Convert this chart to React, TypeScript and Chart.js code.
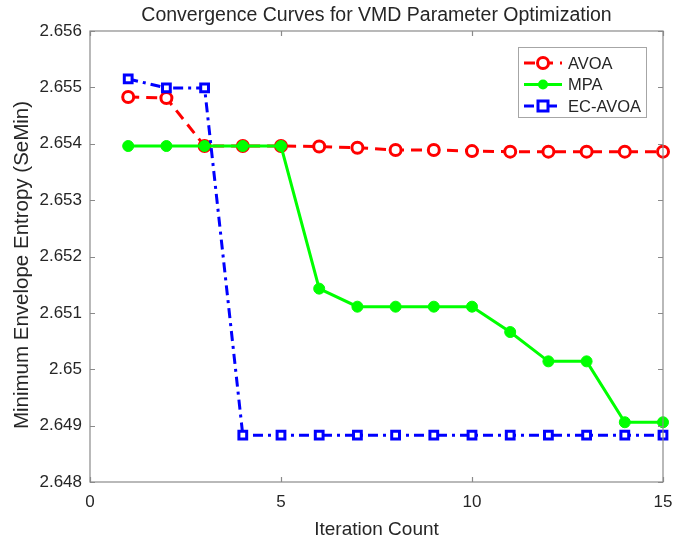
import { useEffect, useRef } from "react";
import { Chart, registerables } from "chart.js";

Chart.register(...registerables);

// Iteration index and best SeMin value found per iteration for each optimizer
const iterations = [1, 2, 3, 4, 5, 6, 7, 8, 9, 10, 11, 12, 13, 14, 15];
const avoaValues = [
  2.65483, 2.65481, 2.65396, 2.65396, 2.65396, 2.65395, 2.65393, 2.65389,
  2.65389, 2.65387, 2.65386, 2.65386, 2.65386, 2.65386, 2.65386,
];
const mpaValues = [
  2.65396, 2.65396, 2.65396, 2.65396, 2.65396, 2.65143, 2.65111, 2.65111,
  2.65111, 2.65111, 2.65066, 2.65014, 2.65014, 2.64906, 2.64906,
];
const ecAvoaValues = [
  2.65515, 2.65499, 2.65499, 2.64883, 2.64883, 2.64883, 2.64883, 2.64883,
  2.64883, 2.64883, 2.64883, 2.64883, 2.64883, 2.64883, 2.64883,
];
const seriesNames = ["AVOA", "MPA", "EC-AVOA"];
const xTicks = [0, 5, 10, 15];
const yTicks = [2.648, 2.649, 2.65, 2.651, 2.652, 2.653, 2.654, 2.655, 2.656];

const titleText = "Convergence Curves for VMD Parameter Optimization";
const xTitleText = "Iteration Count";
const yTitleText = "Minimum Envelope Entropy (SeMin)";

const FONT = "'Liberation Sans', Arial, sans-serif";
const TEXT_COLOR = "#262626";
const AXIS_COLOR = "#8a8a8a";

const RED = "#ff0000";
const GREEN = "#00ff00";
const BLUE = "#0000ff";
const RED_DASH = [11, 7];
const BLUE_DASH = [10, 5, 3, 5];

function drawMarker(
  ctx: CanvasRenderingContext2D,
  kind: string,
  x: number,
  y: number,
  color: string
) {
  ctx.save();
  ctx.setLineDash([]);
  ctx.lineWidth = 3;
  ctx.strokeStyle = color;
  if (kind === "circle") {
    ctx.fillStyle = "#ffffff";
    ctx.beginPath();
    ctx.arc(x, y, 5.5, 0, Math.PI * 2);
    ctx.fill();
    ctx.stroke();
  } else if (kind === "dot") {
    ctx.fillStyle = color;
    ctx.beginPath();
    ctx.arc(x, y, 5, 0, Math.PI * 2);
    ctx.fill();
  } else {
    ctx.fillStyle = "#ffffff";
    ctx.fillRect(x - 5, y - 5, 10, 10);
    ctx.strokeRect(x - 5, y - 5, 10, 10);
  }
  ctx.restore();
}

const framePlugin = {
  id: "frame",
  afterDraw(chart: any) {
    const ctx: CanvasRenderingContext2D = chart.ctx;
    const { left, right, top, bottom } = chart.chartArea;
    const xs = chart.scales.x;
    const ys = chart.scales.y;
    ctx.save();

    // axes box with inward ticks on all four sides
    ctx.strokeStyle = AXIS_COLOR;
    ctx.lineWidth = 1.2;
    ctx.setLineDash([]);
    ctx.strokeRect(left, top, right - left, bottom - top);
    const tl = 5;
    ctx.beginPath();
    for (const v of xTicks) {
      const px = Math.round(xs.getPixelForValue(v)) + 0.5;
      ctx.moveTo(px, bottom);
      ctx.lineTo(px, bottom - tl);
      ctx.moveTo(px, top);
      ctx.lineTo(px, top + tl);
    }
    for (const v of yTicks) {
      const py = Math.round(ys.getPixelForValue(v)) + 0.5;
      ctx.moveTo(left, py);
      ctx.lineTo(left + tl, py);
      ctx.moveTo(right, py);
      ctx.lineTo(right - tl, py);
    }
    ctx.stroke();

    // title and axis titles
    ctx.fillStyle = TEXT_COLOR;
    ctx.textAlign = "center";
    ctx.textBaseline = "alphabetic";
    ctx.font = `19.5px ${FONT}`;
    ctx.fillText(titleText, (left + right) / 2, 21);
    ctx.font = `19px ${FONT}`;
    ctx.fillText(xTitleText, (left + right) / 2, 535);
    ctx.save();
    ctx.translate(22, 265);
    ctx.rotate(-Math.PI / 2);
    ctx.textBaseline = "middle";
    ctx.font = `20.5px ${FONT}`;
    ctx.fillText(yTitleText, 0, 0);
    ctx.restore();

    // legend
    const bx = 518;
    const by = 47;
    const bw = 128;
    const bh = 70;
    ctx.fillStyle = "#ffffff";
    ctx.fillRect(bx, by, bw, bh);
    ctx.strokeStyle = "#a6a6a6";
    ctx.lineWidth = 1;
    ctx.strokeRect(bx + 0.5, by + 0.5, bw, bh);
    const rows = [
      { color: RED, dash: RED_DASH, marker: "circle", y: 63 },
      { color: GREEN, dash: [], marker: "dot", y: 84.5 },
      { color: BLUE, dash: BLUE_DASH, marker: "square", y: 106 },
    ];
    rows.forEach((r, i) => {
      ctx.save();
      ctx.strokeStyle = r.color;
      ctx.lineWidth = 3;
      ctx.setLineDash(r.dash);
      ctx.beginPath();
      ctx.moveTo(524, r.y);
      ctx.lineTo(562, r.y);
      ctx.stroke();
      ctx.restore();
      drawMarker(ctx, r.marker, 543, r.y, r.color);
      ctx.fillStyle = TEXT_COLOR;
      ctx.textAlign = "left";
      ctx.textBaseline = "middle";
      ctx.font = `16.5px ${FONT}`;
      ctx.fillText(seriesNames[i], 568, r.y + 1);
    });
    ctx.restore();
  },
};

function toPoints(values: number[]) {
  return iterations.map((it, i) => ({ x: it, y: values[i] }));
}

export default function App() {
  const canvasRef = useRef<HTMLCanvasElement | null>(null);

  useEffect(() => {
    const canvas = canvasRef.current;
    if (!canvas) return;
    const chart = new Chart(canvas, {
      type: "line",
      data: {
        datasets: [
          {
            label: seriesNames[0],
            data: toPoints(avoaValues),
            borderColor: RED,
            borderWidth: 3,
            borderDash: RED_DASH,
            pointStyle: "circle",
            pointRadius: 5.5,
            pointBorderWidth: 3,
            pointBackgroundColor: "#ffffff",
            pointBorderColor: RED,
            tension: 0,
            clip: false,
            order: 3,
          },
          {
            label: seriesNames[1],
            data: toPoints(mpaValues),
            borderColor: GREEN,
            borderWidth: 3,
            pointStyle: "circle",
            pointRadius: 5.5,
            pointBorderWidth: 1,
            pointBackgroundColor: GREEN,
            pointBorderColor: GREEN,
            tension: 0,
            clip: false,
            order: 2,
          },
          {
            label: seriesNames[2],
            data: toPoints(ecAvoaValues),
            borderColor: BLUE,
            borderWidth: 3,
            borderDash: BLUE_DASH,
            pointStyle: "rect",
            pointRadius: 5.5,
            pointBorderWidth: 3,
            pointBackgroundColor: "#ffffff",
            pointBorderColor: BLUE,
            tension: 0,
            clip: false,
            order: 1,
          },
        ] as any,
      },
      options: {
        animation: false,
        responsive: false,
        maintainAspectRatio: false,
        devicePixelRatio: 1,
        layout: { padding: { top: 31, right: 24, left: 0, bottom: 0 } },
        plugins: {
          legend: { display: false },
          title: { display: false },
          tooltip: { enabled: false },
        },
        scales: {
          x: {
            type: "linear",
            min: 0,
            max: 15,
            grid: { display: false, drawTicks: false },
            border: { display: false },
            afterBuildTicks: (scale: any) => {
              scale.ticks = xTicks.map((v) => ({ value: v }));
            },
            afterFit: (scale: any) => {
              scale.height = 58;
            },
            ticks: {
              color: TEXT_COLOR,
              font: { family: FONT, size: 17 },
              padding: 10,
              maxRotation: 0,
              callback: (v: any) => String(v),
            },
          },
          y: {
            type: "linear",
            min: 2.648,
            max: 2.656,
            grid: { display: false, drawTicks: false },
            border: { display: false },
            afterBuildTicks: (scale: any) => {
              scale.ticks = yTicks.map((v) => ({ value: v }));
            },
            afterFit: (scale: any) => {
              scale.width = 90;
            },
            ticks: {
              color: TEXT_COLOR,
              font: { family: FONT, size: 17 },
              padding: 8,
              callback: (v: any) => String(Number(Number(v).toFixed(3))),
            },
          },
        },
      } as any,
      plugins: [framePlugin],
    });
    return () => chart.destroy();
  }, []);

  return (
    <div style={{ position: "fixed", left: 0, top: 0, width: 687, height: 540, background: "#ffffff" }}>
      <canvas ref={canvasRef} width={687} height={540} style={{ display: "block" }} />
    </div>
  );
}
